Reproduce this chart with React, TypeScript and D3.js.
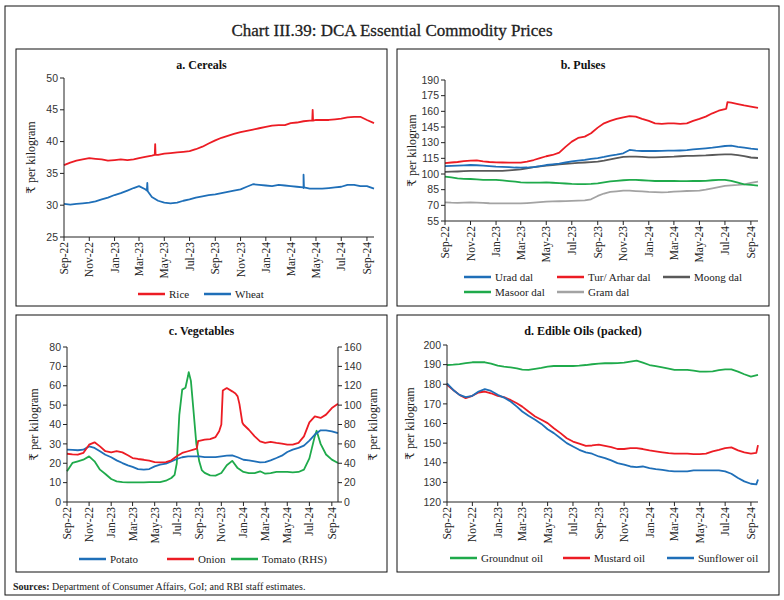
import React from "react";
import * as d3 from "d3";

// ---------------- DATA ----------------
const dates = [
  "2022-09-01","2022-09-16","2022-10-01","2022-10-16","2022-11-01","2022-11-16","2022-12-01","2022-12-16",
  "2023-01-01","2023-01-16","2023-02-01","2023-02-16","2023-03-01","2023-03-16","2023-04-01","2023-04-16",
  "2023-05-01","2023-05-16","2023-06-01","2023-06-16","2023-07-01","2023-07-16","2023-08-01","2023-08-16",
  "2023-09-01","2023-09-16","2023-10-01","2023-10-16","2023-11-01","2023-11-16","2023-12-01","2023-12-16",
  "2024-01-01","2024-01-16","2024-02-01","2024-02-16","2024-03-01","2024-03-16","2024-04-01","2024-04-16",
  "2024-05-01","2024-05-16","2024-06-01","2024-06-16","2024-07-01","2024-07-16","2024-08-01","2024-08-16",
  "2024-09-01","2024-09-18",
];
const xTickLabels = ["Sep-22","Nov-22","Jan-23","Mar-23","May-23","Jul-23","Sep-23","Nov-23","Jan-24","Mar-24","May-24","Jul-24","Sep-24"];

// a. Cereals
const cerealTicks = [25, 30, 35, 40, 45, 50];
const rice = [36.3,36.7,37.0,37.2,37.4,37.3,37.2,37.0,37.1,37.2, 37.1,37.2,37.4,37.6,37.8,37.9,38.1,38.2,38.3,38.4,
  38.5,38.8,39.2,39.7,40.2,40.6,40.9,41.2,41.5,41.7, 41.9,42.1,42.3,42.5,42.6,42.6,42.9,43.0,43.2,43.3,
  43.4,43.4,43.4,43.5,43.6,43.8,43.9,43.9,43.4,42.9];
const riceExtra: [string, number][] = [["2023-04-08",37.9],["2023-04-09",39.6],["2023-04-10",37.9],["2024-04-22",43.3],["2024-04-23",45.0],["2024-04-24",43.3]];
const wheat = [30.2,30.1,30.2,30.3,30.4,30.6,30.9,31.2,31.6,31.9, 32.3,32.7,33.0,32.5,31.3,30.7,30.4,30.3,30.4,30.7,
  30.9,31.2,31.4,31.6,31.7,31.9,32.1,32.3,32.5,32.9, 33.3,33.2,33.1,33.0,33.2,33.1,33.0,32.9,32.7,32.6,
  32.6,32.6,32.7,32.8,32.9,33.2,33.2,33.0,33.0,32.6];
const wheatExtra: [string, number][] = [["2023-03-20",32.3],["2023-03-21",33.5],["2023-03-22",32.2],["2024-03-31",32.8],["2024-04-01",34.8],["2024-04-02",32.8]];

// b. Pulses
const pulseTicks = [55, 70, 85, 100, 115, 130, 145, 160, 175, 190];
const urad = [107.5,107.8,108.0,108.3,108.6,108.4,108.0,107.6,107.0,106.8, 106.5,106.2,106.1,106.2,106.6,107.5,108.6,109.3,110.0,111.0,
  112.0,112.8,113.5,114.5,115.3,116.3,117.6,118.5,119.8,123.0, 122.3,122.0,122.0,122.0,122.2,122.3,122.3,122.5,122.8,123.5,
  124.0,124.6,125.2,126.0,126.8,127.1,126.0,125.2,124.2,123.6];
const tur = [110.5,111.0,111.5,112.3,112.8,113.0,112.0,111.5,111.2,111.0, 110.8,110.8,110.9,111.8,113.4,115.3,117.0,118.2,120.4,126.0,
  131.0,134.5,135.8,139.0,144.4,148.5,150.8,152.7,154.3,155.5, 154.9,152.7,150.8,148.5,147.9,148.5,148.5,147.9,148.5,150.8,
  152.7,154.9,158.1,160.6,162.0,168.3,167.0,165.7,164.5,163.3];
const turExtra: [string, number][] = [["2024-07-04",162.5],["2024-07-07",168.8]];
const moong = [102.0,102.2,102.4,102.7,102.9,103.0,103.0,102.9,102.9,103.0, 103.5,104.0,104.5,105.5,106.5,107.3,108.0,108.6,109.2,109.8,
  110.2,110.6,111.0,111.4,111.8,112.8,114.0,115.2,116.3,116.6, 116.6,116.3,116.0,116.0,116.2,116.4,116.6,117.0,117.3,117.4,
  117.6,117.8,118.2,118.6,118.8,118.7,118.0,117.2,115.8,115.3];
const masoor = [97.5,96.7,95.9,95.4,95.2,94.8,94.4,94.3,94.3,93.8, 93.2,92.7,92.0,91.7,91.7,91.8,92.0,91.6,91.2,90.9,
  90.5,90.4,90.4,90.5,91.0,92.0,93.0,93.5,94.0,94.3, 94.3,94.0,93.6,93.3,93.3,93.3,93.3,93.2,93.2,93.3,
  93.3,93.5,94.0,94.3,94.3,93.5,91.7,90.1,89.5,88.8];
const gram = [72.9,72.5,72.3,72.6,72.9,72.6,72.3,72.0,71.9,71.8, 71.8,71.8,71.9,72.2,72.6,73.0,73.5,73.7,73.9,74.0,
  74.2,74.5,74.8,75.8,79.0,81.3,82.8,83.4,84.1,84.1, 83.7,83.3,82.8,82.6,82.5,82.6,83.1,83.4,83.7,83.9,
  84.1,85.0,86.3,87.5,88.6,89.2,89.5,90.1,91.5,92.8];

// c. Vegetables
const vegTicks = [0, 10, 20, 30, 40, 50, 60, 70, 80];
const vegRightTicks = [0, 20, 40, 60, 80, 100, 120, 140, 160];
const potato = [27.0,26.9,26.7,27.0,28.7,27.9,26.2,24.4,23.1,21.5, 20.1,18.9,18.1,17.0,16.7,17.0,18.4,19.3,19.8,21.0,
  22.2,23.1,23.6,23.6,23.6,23.2,23.2,23.2,23.6,23.9, 24.1,23.1,21.8,21.5,21.0,20.5,20.6,21.5,22.7,23.9,
  25.8,27.0,27.9,29.1,31.7,34.8,37.0,37.0,36.5,35.6];
const onion = [24.9,24.6,24.4,25.3,29.6,30.8,28.7,26.2,25.6,26.2, 25.6,24.1,22.7,22.2,21.8,21.3,20.6,20.5,20.6,21.5,
  23.6,25.3,26.2,27.0,31.5,32.2,32.5,33.5,40.0,58.8, 57.1,54.5,40.0,37.3,33.9,31.3,30.5,31.0,30.5,30.1,
  29.6,29.6,30.5,33.9,41.1,44.2,43.4,45.1,48.5,50.7];
const onionExtra: [string, number][] = [["2023-08-25",27.5],["2023-08-29",31.5],["2023-10-26",36.5],["2023-11-05",57.5],["2023-12-10",56.0],["2023-12-21",50.5],["2023-12-29",41.0]];
const tomato = [31.7,40.3,42.0,43.7,47.1,42.0,33.4,28.9,23.7,21.3, 20.6,20.3,20.3,20.3,20.3,20.6,20.6,20.6,22.0,24.8,
  40.0,116.0,130.0,95.0,42.0,30.0,27.5,27.2,29.9,38.0, 42.5,35.0,31.0,29.9,29.9,31.7,29.2,29.9,31.0,31.0,
  31.0,30.6,31.0,33.4,45.0,68.0,60.0,49.0,43.7,40.3];
const tomatoExtra: [string, number][] = [["2023-06-25",28.0],["2023-07-08",90.0],["2023-07-25",118.0],["2023-08-03",134.0],["2023-08-09",125.0],["2023-08-24",60.0],["2023-09-08",33.0],["2024-07-21",73.5]];

// d. Edible oils
const oilTicks = [120, 130, 140, 150, 160, 170, 180, 190, 200];
const groundnut = [189.8,190.0,190.3,190.8,191.2,191.3,191.2,190.5,189.5,189.0, 188.6,188.1,187.5,187.3,187.8,188.3,189.0,189.3,189.3,189.3,
  189.3,189.5,189.8,190.2,190.5,190.7,190.7,190.8,191.0,191.5, 192.0,191.0,189.8,189.2,188.6,188.0,187.3,187.3,187.3,186.9,
  186.4,186.4,186.6,187.2,187.6,187.6,186.4,185.1,183.9,184.8];
const mustard = [179.7,177.1,174.6,172.9,174.1,175.8,176.3,175.4,174.1,173.4, 172.0,170.3,168.6,166.1,163.6,161.9,160.2,157.6,155.1,152.5,
  150.8,149.7,148.6,148.8,149.2,148.6,148.0,147.0,147.0,147.5, 147.5,147.0,146.3,145.8,145.3,144.9,144.6,144.6,144.6,144.4,
  144.4,144.6,145.8,146.6,147.5,147.8,146.3,145.3,144.6,149.0];
const mustardExtra: [string, number][] = [["2024-09-14",145.0]];
const sunflower = [180.5,177.1,174.6,173.4,174.1,176.3,177.5,176.6,174.6,173.2, 171.2,168.6,166.1,163.9,161.9,159.8,157.1,155.1,152.5,150.0,
  148.3,146.6,145.3,144.6,143.2,142.4,141.2,139.8,139.0,138.1, 137.8,138.1,137.3,136.8,136.4,135.9,135.6,135.6,135.6,136.1,
  136.1,136.1,136.1,136.1,135.6,134.4,132.2,130.5,129.3,131.5];
const sunflowerExtra: [string, number][] = [["2024-09-14",129.0]];

// ---------------- COLOURS / FONTS ----------------
const RED = "#ec1c24";
const BLUE = "#1f6fb8";
const GREEN = "#1faa4b";
const DGRAY = "#595959";
const LGRAY = "#a3a3a3";
const SERIF = "'Liberation Serif', 'DejaVu Serif', serif";
const SANS = "'Liberation Sans', Arial, sans-serif";

const parse = d3.timeParse("%Y-%m-%d");
const parseTick = d3.timeParse("%b-%y");
const START = parse("2022-09-01") as Date;
const END = parse("2024-09-18") as Date;

type Pt = { date: Date; value: number };
function buildPoints(values: number[], extra: [string, number][] = []): Pt[] {
  const pts: Pt[] = dates.map((d, i) => ({ date: parse(d) as Date, value: values[i] }));
  extra.forEach(([d, v]) => pts.push({ date: parse(d) as Date, value: v }));
  pts.sort((a, b) => +a.date - +b.date);
  return pts;
}

type SeriesDef = { values: number[]; extra?: [string, number][]; color: string; right?: boolean };
type LegendDef = { label: string; color: string; x: number; y: number };

type PanelProps = {
  box: [number, number, number, number];
  title: string;
  titleY: number;
  plot: { x0: number; x1: number; y0: number; y1: number };
  yDomain: [number, number];
  yTicks: number[];
  rDomain?: [number, number];
  rTicks?: number[];
  series: SeriesDef[];
  legend: LegendDef[];
  yLabelX: number;
  rLabelX?: number;
};

function Panel(p: PanelProps) {
  const [bx, by, bw, bh] = p.box;
  const { x0, x1, y0, y1 } = p.plot;
  const x = d3.scaleTime().domain([START, END]).range([x0, x1]);
  const y = d3.scaleLinear().domain(p.yDomain).range([y1, y0]);
  const yr = p.rDomain ? d3.scaleLinear().domain(p.rDomain).range([y1, y0]) : null;
  const tickDates = xTickLabels.map((l) => parseTick(l) as Date);
  const fmt = d3.timeFormat("%b-%y");
  const cy = (y0 + y1) / 2;
  return (
    <g>
      <rect x={bx} y={by} width={bw} height={bh} fill="none" stroke="#111" strokeWidth={1} />
      <text x={bx + bw / 2} y={p.titleY} textAnchor="middle" fontFamily={SERIF} fontWeight="bold" fontSize={12} fill="#111">{p.title}</text>
      {p.series.map((s, i) => {
        const sc = s.right && yr ? yr : y;
        const line = d3.line<Pt>().x((d) => x(d.date)).y((d) => sc(d.value));
        return <path key={i} d={line(buildPoints(s.values, s.extra)) || ""} fill="none" stroke={s.color} strokeWidth={1.8} strokeLinejoin="round" />;
      })}
      {/* left axis */}
      <line x1={x0} x2={x0} y1={y0} y2={y1} stroke="#222" strokeWidth={1} />
      {p.yTicks.map((t) => (
        <g key={t}>
          <line x1={x0 - 4} x2={x0} y1={y(t)} y2={y(t)} stroke="#222" strokeWidth={1} />
          <text x={x0 - 6} y={y(t)} dy="0.35em" textAnchor="end" fontFamily={SANS} fontSize={10.5} fill="#333">{t}</text>
        </g>
      ))}
      {yr && p.rTicks && (
        <g>
          <line x1={x1} x2={x1} y1={y0} y2={y1} stroke="#222" strokeWidth={1} />
          {p.rTicks.map((t) => (
            <g key={t}>
              <line x1={x1} x2={x1 + 4} y1={yr(t)} y2={yr(t)} stroke="#222" strokeWidth={1} />
              <text x={x1 + 6} y={yr(t)} dy="0.35em" textAnchor="start" fontFamily={SANS} fontSize={10.5} fill="#333">{t}</text>
            </g>
          ))}
        </g>
      )}
      {/* bottom axis */}
      <line x1={x0} x2={x1} y1={y1} y2={y1} stroke="#222" strokeWidth={1} />
      {tickDates.map((d, i) => (
        <g key={i}>
          <line x1={x(d)} x2={x(d)} y1={y1} y2={y1 + 4} stroke="#222" strokeWidth={1} />
          <text transform={`translate(${x(d)},${y1 + 5}) rotate(-90)`} dy="0.35em" textAnchor="end" fontFamily={SERIF} fontSize={11.5} fill="#222">{fmt(d)}</text>
        </g>
      ))}
      <text transform={`translate(${p.yLabelX},${cy}) rotate(-90)`} dy="0.35em" textAnchor="middle" fontFamily={SERIF} fontSize={12} fill="#222">₹ per kilogram</text>
      {p.rLabelX !== undefined && (
        <text transform={`translate(${p.rLabelX},${cy}) rotate(-90)`} dy="0.35em" textAnchor="middle" fontFamily={SERIF} fontSize={12} fill="#222">₹ per kilogram</text>
      )}
      {p.legend.map((l, i) => (
        <g key={i}>
          <line x1={l.x} x2={l.x + 27} y1={l.y} y2={l.y} stroke={l.color} strokeWidth={2.5} />
          <text x={l.x + 31} y={l.y} dy="0.35em" fontFamily={SERIF} fontSize={11} fill="#222">{l.label}</text>
        </g>
      ))}
    </g>
  );
}

export default function App() {
  return (
    <div style={{ position: "absolute", left: 0, top: 0 }}>
      <svg width={784} height={600} viewBox="0 0 784 600" style={{ display: "block", background: "#fff" }}>
        <rect x={0} y={0} width={784} height={600} fill="#fff" />
        <rect x={5} y={6} width={774} height={589} fill="none" stroke="#111" strokeWidth={1} />
        <text x={392} y={36} textAnchor="middle" fontFamily={SERIF} fontSize={17} fill="#222" stroke="#222" strokeWidth={0.3}>Chart III.39: DCA Essential Commodity Prices</text>

        <Panel
          box={[16, 49, 371, 257]}
          title="a. Cereals" titleY={69}
          plot={{ x0: 64, x1: 374, y0: 78, y1: 237 }}
          yDomain={[25, 50]} yTicks={cerealTicks}
          series={[
            { values: rice, extra: riceExtra, color: RED },
            { values: wheat, extra: wheatExtra, color: BLUE },
          ]}
          legend={[
            { label: "Rice", color: RED, x: 138, y: 294 },
            { label: "Wheat", color: BLUE, x: 204, y: 294 },
          ]}
          yLabelX={31}
        />
        <Panel
          box={[397, 49, 372, 257]}
          title="b. Pulses" titleY={69}
          plot={{ x0: 445, x1: 758, y0: 80, y1: 221 }}
          yDomain={[55, 190]} yTicks={pulseTicks}
          series={[
            { values: gram, color: LGRAY },
            { values: masoor, color: GREEN },
            { values: moong, color: DGRAY },
            { values: urad, color: BLUE },
            { values: tur, extra: turExtra, color: RED },
          ]}
          legend={[
            { label: "Urad dal", color: BLUE, x: 464, y: 277 },
            { label: "Tur/ Arhar dal", color: RED, x: 557, y: 277 },
            { label: "Moong dal", color: DGRAY, x: 663, y: 277 },
            { label: "Masoor dal", color: GREEN, x: 464, y: 292 },
            { label: "Gram dal", color: LGRAY, x: 557, y: 292 },
          ]}
          yLabelX={412}
        />
        <Panel
          box={[16, 315, 371, 257]}
          title="c. Vegetables" titleY={335}
          plot={{ x0: 67, x1: 338, y0: 347, y1: 502 }}
          yDomain={[0, 80]} yTicks={vegTicks}
          rDomain={[0, 160]} rTicks={vegRightTicks}
          series={[
            { values: tomato, extra: tomatoExtra, color: GREEN, right: true },
            { values: potato, color: BLUE },
            { values: onion, extra: onionExtra, color: RED },
          ]}
          legend={[
            { label: "Potato", color: BLUE, x: 79, y: 559 },
            { label: "Onion", color: RED, x: 167, y: 559 },
            { label: "Tomato (RHS)", color: GREEN, x: 231, y: 559 },
          ]}
          yLabelX={34}
          rLabelX={373}
        />
        <Panel
          box={[397, 315, 372, 257]}
          title="d. Edible Oils (packed)" titleY={335}
          plot={{ x0: 447, x1: 758, y0: 345, y1: 502 }}
          yDomain={[120, 200]} yTicks={oilTicks}
          series={[
            { values: groundnut, color: GREEN },
            { values: mustard, extra: mustardExtra, color: RED },
            { values: sunflower, extra: sunflowerExtra, color: BLUE },
          ]}
          legend={[
            { label: "Groundnut oil", color: GREEN, x: 450, y: 558 },
            { label: "Mustard oil", color: RED, x: 563, y: 558 },
            { label: "Sunflower oil", color: BLUE, x: 667, y: 558 },
          ]}
          yLabelX={410}
        />
        <text x={13} y={590} fontFamily={SERIF} fontSize={10} fill="#222">
          <tspan fontWeight="bold">Sources:</tspan> Department of Consumer Affairs, GoI; and RBI staff estimates.
        </text>
      </svg>
    </div>
  );
}
